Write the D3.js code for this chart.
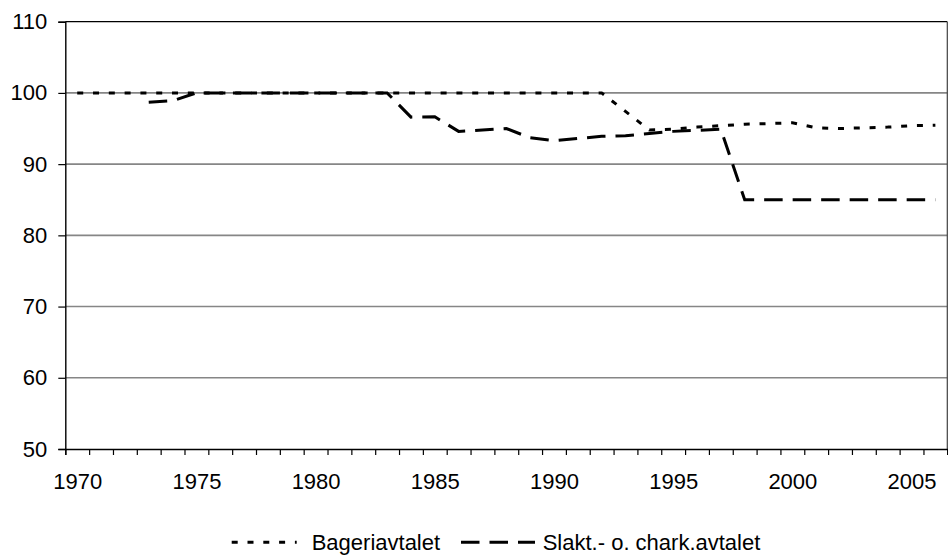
<!DOCTYPE html>
<html>
<head>
<meta charset="utf-8">
<script src="https://cdn.jsdelivr.net/npm/d3@7"></script>
<style>
  html, body { margin: 0; padding: 0; background: #fff; }
  svg { display: block; }
  text { font-family: "Liberation Sans", Arial, sans-serif; font-size: 22px; fill: #000; }
</style>
</head>
<body>
<svg id="chart" width="948" height="558"></svg>
<script>
// ---- data ----
const years = d3.range(1970, 2007);
const bageri = [
  100, 100, 100, 100, 100, 100, 100, 100, 100, 100,      // 1970-1979
  100, 100, 100, 100, 100, 100, 100, 100, 100, 100,      // 1980-1989
  100, 100, 100, 97.4, 94.8, 94.9, 95.2, 95.4, 95.6, 95.7, // 1990-1999
  95.8, 95.1, 95.0, 95.1, 95.2, 95.4, 95.45              // 2000-2006
];
const slakt = [
  null, null, null, 98.7, 98.9, 100, 100, 100, 100, 100,  // 1970-1979
  100, 100, 100, 100, 96.6, 96.65, 94.6, 94.8, 95.0, 93.7, // 1980-1989
  93.3, 93.6, 93.9, 94.0, 94.3, 94.6, 94.75, 94.9, 85, 85, // 1990-1999
  85, 85, 85, 85, 85, 85, 85                              // 2000-2006
];
const yTicks = [50, 60, 70, 80, 90, 100, 110];
const xLabels = [1970, 1975, 1980, 1985, 1990, 1995, 2000, 2005];
const seriesNames = ["Bageriavtalet", "Slakt.- o. chark.avtalet"];

// ---- layout ----
const plotL = 65.3, plotR = 947.3, plotT = 21.7, plotB = 449;
const svg = d3.select("#chart");

const x = d3.scaleLinear().domain([1969.5, 2006.5]).range([plotL, plotR]);
const y = d3.scaleLinear().domain([50, 110]).range([plotB, plotT]);

// gridlines
svg.append("g").selectAll("line")
  .data(yTicks.filter(v => v > 50 && v < 110))
  .join("line")
  .attr("x1", plotL).attr("x2", plotR)
  .attr("y1", d => y(d)).attr("y2", d => y(d))
  .attr("stroke", "#868686").attr("stroke-width", 1.6);

// frame top & right
svg.append("line").attr("x1", plotL).attr("x2", plotR).attr("y1", y(110)).attr("y2", y(110))
  .attr("stroke", "#000").attr("stroke-width", 1.2);
svg.append("line").attr("x1", plotR).attr("x2", plotR).attr("y1", y(110)).attr("y2", y(50))
  .attr("stroke", "#404040").attr("stroke-width", 1.2);

// y axis
const yAxis = d3.axisLeft(y).tickValues(yTicks).tickSize(7).tickPadding(11).tickFormat(d3.format("d"));
const gy = svg.append("g").attr("transform", `translate(${plotL},0)`).call(yAxis);
gy.select(".domain").attr("stroke", "#000").attr("stroke-width", 1.4);
gy.selectAll(".tick line").attr("stroke", "#000").attr("stroke-width", 1.2);
gy.selectAll("text").style("font-size", "22px").style("font-family", '"Liberation Sans", Arial, sans-serif').attr("fill", "#000");

// x axis: boundary ticks
const boundaries = d3.range(1969.5, 2007, 1);
const xTickAxis = d3.axisBottom(x).tickValues(boundaries).tickSize(6).tickFormat("");
const gx = svg.append("g").attr("transform", `translate(0,${plotB})`).call(xTickAxis);
gx.select(".domain").attr("stroke", "#000").attr("stroke-width", 1.4);
gx.selectAll(".tick line").attr("stroke", "#000").attr("stroke-width", 1.2);

// x labels
const xLabAxis = d3.axisBottom(x).tickValues(xLabels).tickSize(0).tickPadding(24).tickFormat(d3.format("d"));
const gxl = svg.append("g").attr("transform", `translate(0,${plotB})`).call(xLabAxis);
gxl.select(".domain").remove();
gxl.selectAll("text").style("font-size", "22px").style("font-family", '"Liberation Sans", Arial, sans-serif').attr("fill", "#000");

// lines
const line = d3.line()
  .defined(d => d.v !== null)
  .x(d => x(d.year))
  .y(d => y(d.v));

const styles = [
  { dash: "6,9.8" },
  { dash: "18.5,10" }
];
const allSeries = [bageri, slakt];
allSeries.forEach((vals, i) => {
  const data = years.map((yr, j) => ({ year: yr, v: vals[j] }));
  svg.append("path")
    .datum(data)
    .attr("d", line)
    .attr("fill", "none")
    .attr("stroke", "#000")
    .attr("stroke-width", 3)
    .attr("stroke-dasharray", styles[i].dash);
});

// legend
const legendY = 542.3;
const legendItems = [
  { x1: 231.7, x2: 296.7, tx: 311.7 },
  { x1: 461, x2: 535, tx: 542.7 }
];
legendItems.forEach((it, i) => {
  svg.append("line")
    .attr("x1", it.x1).attr("x2", it.x2)
    .attr("y1", legendY).attr("y2", legendY)
    .attr("stroke", "#000").attr("stroke-width", 3)
    .attr("stroke-dasharray", styles[i].dash);
  svg.append("text")
    .attr("x", it.tx).attr("y", 550)
    .text(seriesNames[i]);
});
</script>
</body>
</html>
